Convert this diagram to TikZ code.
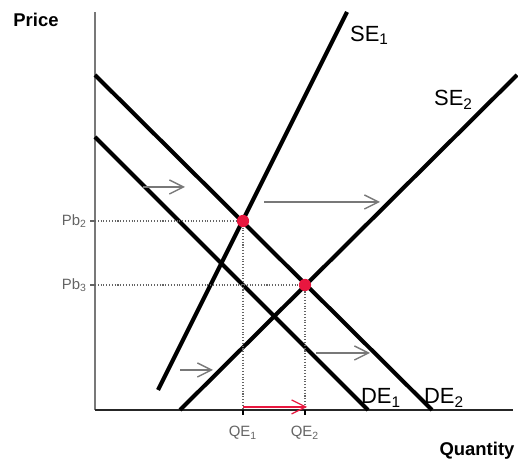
\documentclass[tikz,border=0pt]{standalone}
\usepackage{fontspec}
\setmainfont{Liberation Sans}
\usetikzlibrary{arrows.meta}
\definecolor{eqred}{RGB}{232,23,63}
\definecolor{axgray}{RGB}{120,120,120}
\definecolor{labgray}{RGB}{100,100,100}
\begin{document}
\begin{tikzpicture}[x=0.02cm, y=-0.02cm,
	curve/.style={line width=2.3pt, black},
	shiftarrow/.style={line width=0.8pt, axgray, -{Straight Barb[length=8pt,width=8pt]}},
	guide/.style={densely dotted, line width=0.6pt, labgray},
	dot/.style={circle, fill=eqred, inner sep=0pt, minimum size=7pt},
	curvelab/.style={font=\fontsize{12.5}{14}\selectfont, inner sep=1pt},
	ticklab/.style={font=\fontsize{8.5}{10}\selectfont, text=labgray, inner sep=1pt},
	axlab/.style={font=\fontsize{10.5}{12}\bfseries, inner sep=0pt}
	]
	\useasboundingbox (0,0) rectangle (518,459);
	
	%Achsen
	\coordinate (origin) at (95,410);
	\coordinate (ytop) at (95,12);
	\coordinate (xend) at (513,410);
	\draw[line width=1.1pt, axgray] (origin) -- (ytop);
	\draw[line width=1.1pt, black!85] (origin) -- (xend);
	\node[axlab] (price) at (36,20) {Price};
	\node[axlab] (quant) at (477,451) {Quantity};
	
	%Kurven
	\coordinate (se1a) at (158,390);
	\coordinate (se1b) at (347,12);
	\coordinate (se2a) at (180,410);
	\coordinate (se2b) at (517,75);
	\coordinate (de1a) at (95,137);
	\coordinate (de1b) at (368,410);
	\coordinate (de2a) at (95,75);
	\coordinate (de2b) at (432,410);
	\draw[curve] (se1a) -- (se1b);
	\draw[curve] (se2a) -- (se2b);
	\draw[curve] (de1a) -- (de1b);
	\draw[curve] (de2a) -- (de2b);
	
	\node[curvelab, anchor=west] (se1lab) at (348,35) {SE\textsubscript{1}};
	\node[curvelab, anchor=west] (se2lab) at (432,100) {SE\textsubscript{2}};
	\node[curvelab, anchor=west] (de1lab) at (359,398) {DE\textsubscript{1}};
	\node[curvelab, anchor=west] (de2lab) at (422,398) {DE\textsubscript{2}};
	
	%Gleichgewichte
	\coordinate (pb2) at (95,221);
	\coordinate (pb3) at (95,285);
	\coordinate (qe1) at (243,410);
	\coordinate (qe2) at (305,410);
	\draw[guide] (pb2) -- (243,221) -- (qe1);
	\draw[guide] (pb3) -- (305,285) -- (qe2);
	\draw[line width=0.6pt, labgray] (pb2) -- ++ (-5,0);
	\draw[line width=0.6pt, labgray] (pb3) -- ++ (-5,0);
	\draw[line width=0.6pt, black] (qe1) -- ++ (0,5);
	\draw[line width=0.6pt, black] (qe2) -- ++ (0,5);
	\node[dot] (eq2) at (243,221) {};
	\node[dot] (eq3) at (305,285) {};
	
	\node[ticklab, anchor=east] (pb2lab) at (89,221) {Pb\textsubscript{2}};
	\node[ticklab, anchor=east] (pb3lab) at (89,285) {Pb\textsubscript{3}};
	\node[ticklab] (qe1lab) at (243,433) {QE\textsubscript{1}};
	\node[ticklab] (qe2lab) at (305,433) {QE\textsubscript{2}};
	
	%Verschiebungen
	\draw[shiftarrow] (143,187) -- (185,187);
	\draw[shiftarrow] (264,202) -- (380,202);
	\draw[shiftarrow] (180,370) -- (213,370);
	\draw[shiftarrow] (316,353) -- (370,353);
	\draw[shiftarrow, eqred, line width=0.7pt] (243,407) -- (307,407);
\end{tikzpicture}
\end{document}
